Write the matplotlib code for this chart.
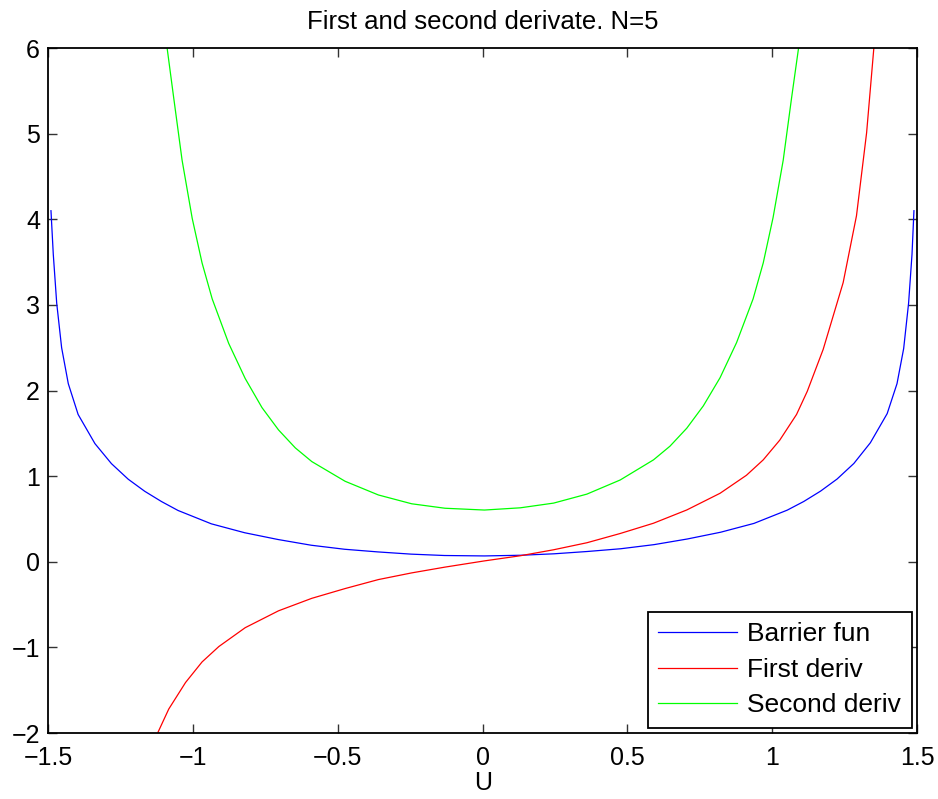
import matplotlib.pyplot as plt

plt.rcParams['font.family'] = ['Liberation Sans', 'DejaVu Sans']

# barrier function
u_barrier = [-1.4908, -1.4828, -1.471, -1.454, -1.431, -1.397, -1.339, -1.282, -1.224,
             -1.167, -1.109, -1.052, -0.937, -0.822, -0.707, -0.592, -0.477, -0.362,
             -0.247, -0.132, 0.006, 0.132, 0.247, 0.362, 0.477, 0.592, 0.707, 0.822,
             0.937, 1.052, 1.109, 1.167, 1.224, 1.282, 1.339, 1.397, 1.431, 1.454,
             1.471, 1.4828, 1.4895]
barrier = [4.10, 3.59, 3.02, 2.50, 2.08, 1.72, 1.38, 1.146, 0.964,
           0.823, 0.703, 0.599, 0.443, 0.339, 0.260, 0.193, 0.146, 0.115,
           0.089, 0.073, 0.068, 0.076, 0.093, 0.12, 0.152, 0.2, 0.266, 0.345,
           0.448, 0.603, 0.704, 0.825, 0.966, 1.148, 1.39, 1.73, 2.08, 2.49,
           3.02, 3.59, 4.10]

# first derivative
u_first = [-1.121, -1.084, -1.026, -0.969, -0.911, -0.820, -0.705, -0.590, -0.475,
           -0.360, -0.245, -0.130, 0.006, 0.130, 0.245, 0.360, 0.475, 0.590, 0.705,
           0.820, 0.911, 0.969, 1.026, 1.084, 1.121, 1.176, 1.245, 1.291, 1.326, 1.351]
first = [-1.99, -1.72, -1.41, -1.17, -0.99, -0.77, -0.573, -0.427, -0.313,
         -0.208, -0.130, -0.0625, 0.01, 0.07, 0.14, 0.222, 0.33, 0.45, 0.605,
         0.80, 1.01, 1.19, 1.42, 1.72, 1.99, 2.48, 3.26, 4.04, 5.01, 6.0]

# second derivative
u_second = [-1.0897, -1.067, -1.038, -1.003, -0.969, -0.934, -0.877, -0.820, -0.762,
            -0.705, -0.647, -0.590, -0.475, -0.360, -0.245, -0.130, 0.006, 0.130,
            0.245, 0.360, 0.475, 0.590, 0.647, 0.705, 0.762, 0.820, 0.877, 0.934,
            0.969, 1.003, 1.038, 1.067, 1.091]
second = [6.0, 5.42, 4.69, 4.01, 3.49, 3.07, 2.55, 2.14, 1.80,
          1.54, 1.33, 1.17, 0.94, 0.78, 0.677, 0.625, 0.604, 0.63,
          0.685, 0.79, 0.955, 1.19, 1.35, 1.56, 1.82, 2.15, 2.56, 3.07,
          3.49, 4.02, 4.69, 5.42, 6.0]

fig = plt.figure(figsize=(9.38, 7.99), dpi=100)
ax = fig.add_axes([0.0515, 0.0826, 0.9261, 0.8573])

ax.plot(u_barrier, barrier, color='#0000ff', lw=0.9, label='Barrier fun')
ax.plot(u_first, first, color='#ff0000', lw=0.9, label='First deriv')
ax.plot(u_second, second, color='#00ff00', lw=0.9, label='Second deriv')

ax.set_xlim(-1.5, 1.5)
ax.set_ylim(-2, 6)
ax.set_xticks([-1.5, -1, -0.5, 0, 0.5, 1, 1.5])
ax.set_xticklabels(['\u22121.5', '\u22121', '\u22120.5', '0', '0.5', '1', '1.5'])
ax.set_yticks([-2, -1, 0, 1, 2, 3, 4, 5, 6])
ax.set_yticklabels(['\u22122', '\u22121', '0', '1', '2', '3', '4', '5', '6'])
ax.tick_params(direction='in', length=6.5, width=1, top=True, right=True,
               labelsize=18, color='#333333')
ax.tick_params(axis='x', pad=9)
ax.tick_params(axis='y', pad=6)
for sp in ax.spines.values():
    sp.set_linewidth(1.3)

ax.set_title('First and second derivate. N=5', fontsize=18.5, pad=14)
ax.set_xlabel('U', fontsize=18, labelpad=1)

leg = ax.legend(loc='lower right', fontsize=19, fancybox=False, framealpha=1,
                edgecolor='black', borderaxespad=0.2, handlelength=3.0,
                handletextpad=0.38, labelspacing=0.43, borderpad=0.4)
leg.get_frame().set_linewidth(1.3)

fig.savefig('out.png', dpi=100)
